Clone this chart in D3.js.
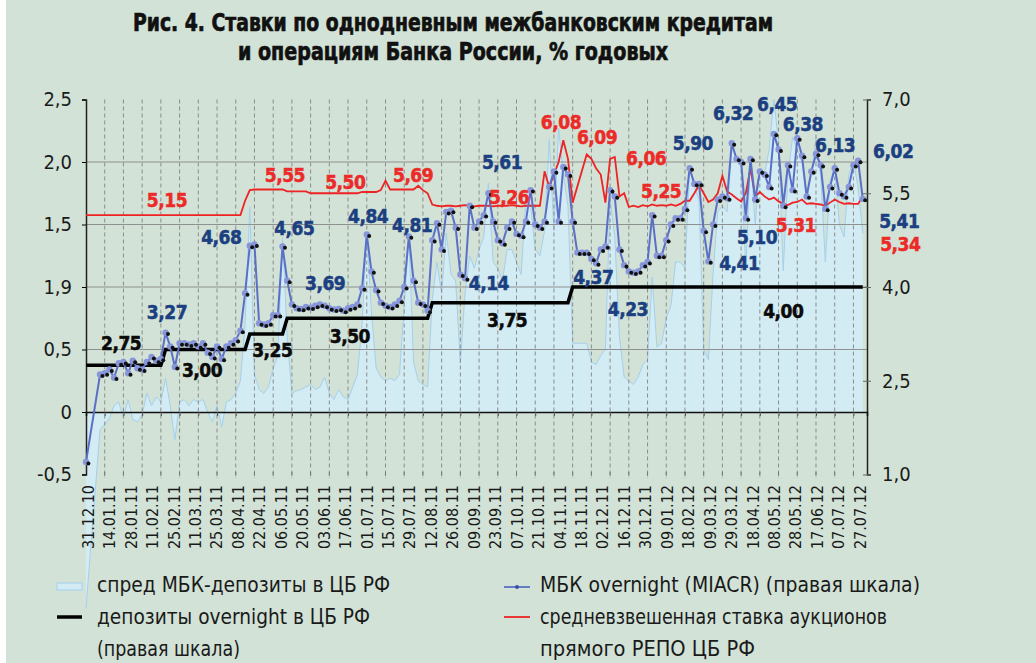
<!DOCTYPE html>
<html>
<head>
<meta charset="utf-8">
<script src="https://cdn.jsdelivr.net/npm/d3@7"></script>
<style>
  body { margin: 0; background: #d2e2d6; }
  svg { display: block; }
</style>
</head>
<body>
<svg id="chart"></svg>
<script>
// MIACR overnight, % (right scale); null = no fixing (holidays)
const miacr = [
  1.2, null, null, 2.6, 2.62, 2.68, 2.55, 2.78, 2.8, 2.62,
  2.82, 2.7, 2.68, 2.8, 2.88, 2.82, 2.85, 3.27, 3.05, 2.72,
  3.1, 3.1, 3.08, 3.1, 3.05, 3.1, 2.95, 2.88, 3.05, 2.85,
  3.05, 3.1, 3.15, 3.3, 3.9, 4.66, 4.68, 3.42, 3.4, 3.42,
  3.55, 3.55, 4.65, 4.1, 3.72, 3.66, 3.65, 3.68, 3.67, 3.7,
  3.72, 3.7, 3.66, 3.64, 3.65, 3.62, 3.66, 3.68, 3.72, 3.98,
  4.84, 4.25, 3.95, 3.75, 3.7, 3.68, 3.72, 3.78, 4.0, 4.81,
  4.1, 3.75, 3.72, 3.62, 4.75, 5.02, 4.6, 5.2, 5.22, 4.95,
  4.2, 4.14, 5.3, 4.95, 5.05, 5.15, 5.5, 5.05, 4.75, 4.7,
  4.95, 5.05, 4.85, 4.82, 5.05, 5.55, 5.0, 4.95, 5.05, 5.6,
  5.85, 5.05, 5.92, 5.8, 5.05, 4.55, 4.55, 4.55, 4.45, 4.38,
  4.6, 4.65, 5.55, 5.45, 4.6, 4.35, 4.25, 4.23, 4.25, 4.35,
  4.4, 5.15, 4.5, 4.5, 4.75, 5.0, 5.1, 5.1, 5.25, 5.9,
  5.65, 5.65, 4.9, 4.41, 5.0, 5.4, 5.45, 5.42, 6.3, 6.05,
  6.0, 5.1, 6.05, 5.4, 5.85, 5.8, 5.6, 6.45, 6.2, 5.3,
  5.95, 5.55, 6.38, 6.1, 5.45, 5.85, 6.13, 5.95, 5.25, 5.6,
  5.9, 5.5, 5.45, 5.6, 5.95, 6.02, 5.41
];

// spread MBK - CBR deposits, p.p. (left scale)
const spread = [
  -1.57, null, null, -0.14, -0.1, -0.05, 0.05, 0.08, -0.05, 0.1,
  -0.06, -0.08, -0.02, 0.15, 0.05, 0.12, 0.08, 0.27, 0.05, -0.22,
  0.08, 0.1, 0.05, 0.1, 0.08, 0.1, 0.0, -0.08, 0.05, -0.12,
  0.08, 0.1, 0.15, 0.25, 0.7, 1.64, 0.3, 0.18, 0.15, 0.2,
  0.35, 0.45, 1.4, 0.6, 0.15, 0.17, 0.18, 0.2, 0.22, 0.18,
  0.2, 0.28, 0.15, 0.1, 0.18, 0.12, 0.1, 0.2, 0.3, 0.7,
  1.43, 0.8, 0.35, 0.28, 0.25, 0.27, 0.25, 0.3, 0.85, 1.4,
  0.4, 0.25, 0.22, 0.2, 0.9, 1.2, 0.95, 1.43, 1.1, 1.05,
  0.39, 0.95, 1.25, 1.15, 1.3, 1.4, 1.83, 1.2, 1.15, 1.05,
  1.3, 1.3, 1.2, 1.1, 1.7, 1.65, 1.3, 1.25, 1.45, 2.18,
  1.45, 2.27, 1.9, 1.65, 0.55, 0.55, 0.55, 0.55, 0.4, 0.38,
  0.45, 0.5, 1.7, 1.4, 0.6, 0.28, 0.25, 0.22, 0.28, 0.38,
  0.42, 1.08, 0.52, 0.55, 0.75, 0.85, 1.2, 1.2, 1.15, 1.94,
  1.8, 1.7, 0.5, 0.42, 1.1, 1.6, 1.65, 1.6, 2.1, 2.05,
  2.0, 1.13, 2.05, 1.5, 1.95, 1.9, 2.1, 2.5, 2.15, 1.13,
  1.9, 2.2, 2.1, 2.0, 1.7, 1.9, 2.2, 1.9, 1.2, 1.85,
  1.95, 1.5, 1.4, 1.9, 2.0, 1.8, 1.43
];

// weighted average direct REPO auction rate, % (right scale)
const repo = [
  5.15, null, null, 5.15, 5.15, 5.15, 5.15, 5.15, 5.15, 5.15,
  5.15, 5.15, 5.15, 5.15, 5.15, 5.15, 5.15, 5.15, 5.15, 5.15,
  5.15, 5.15, 5.15, 5.15, 5.15, 5.15, 5.15, 5.15, 5.15, 5.15,
  5.15, 5.15, 5.15, 5.15, 5.38, 5.55, 5.56, 5.56, 5.56, 5.56,
  5.56, 5.56, 5.56, 5.53, 5.53, 5.53, 5.53, 5.53, 5.5, 5.5,
  5.5, 5.5, 5.5, 5.5, 5.5, 5.5, 5.5, 5.5, 5.5, 5.52,
  5.52, 5.52, 5.52, 5.55, 5.7, 5.56, 5.56, 5.56, 5.56, 5.56,
  5.56, 5.62, 5.55, 5.5, 5.32, 5.3, 5.29, 5.3, 5.3, 5.29,
  5.3, 5.31, 5.3, 5.29, 5.3, 5.3, 5.3, 5.29, 5.3, 5.3,
  5.3, 5.31, 5.3, 5.29, 5.3, 5.3, 5.3, 5.3, 5.85, 5.6,
  5.8, 6.0, 6.35, 6.05, 5.35, null, null, 6.12, 6.05, 5.9,
  5.8, 5.35, 6.05, 6.08, 5.45, 5.5, 5.28, 5.3, 5.28, 5.31,
  5.29, 5.32, 5.3, 5.31, 5.3, 5.32, 5.3, 5.33, 5.38, 5.38,
  5.5, 5.63, 5.5, 5.36, 5.4, 5.5, 5.78, 5.53, 5.48, 5.42,
  5.37, 5.5, 5.9, 5.45, 5.52, 5.45, 5.4, 5.43, 5.37, 5.33,
  5.31, 5.35, 5.36, 5.4, 5.33, 5.34, 5.33, 5.32, 5.3, 5.35,
  5.4, 5.36, 5.33, 5.34, 5.33, 5.33, 5.45
];

// CBR overnight deposit rate, % (right scale): [point index, rate]
const deposit = [
  [0, 2.75], [16, 2.75], [17, 3.0], [34, 3.0], [35, 3.25], [42, 3.25],
  [43, 3.5], [73, 3.5], [74, 3.75], [103, 3.75], [104, 4.0], [166, 4.0]
];

const dateLabels = [
  "31.12.10", "14.01.11", "28.01.11", "11.02.11", "25.02.11", "11.03.11", "25.03.11",
  "08.04.11", "22.04.11", "06.05.11", "20.05.11", "03.06.11", "17.06.11", "01.07.11",
  "15.07.11", "29.07.11", "12.08.11", "26.08.11", "09.09.11", "23.09.11", "07.10.11",
  "21.10.11", "04.11.11", "18.11.11", "02.12.11", "16.12.11", "30.12.11", "09.01.12",
  "18.02.12", "09.03.12", "29.03.12", "18.04.12", "08.05.12", "28.05.12", "17.06.12",
  "07.07.12", "27.07.12"
];

const leftTicks = [-0.5, 0, 0.5, 1, 1.5, 2, 2.5];
const leftTickText = ["-0,5", "0", "0,5", "1,9", "1,5", "2,0", "2,5"];
const rightTicks = [1, 2.5, 4, 5.5, 7];
const gridIdx = d3.range(4, 167, 4);

// value call-outs: [text, point index, rate on right scale]
const blueNotes = [
  ["3,27", 17.3, 3.6], ["4,68", 28.9, 4.8], ["4,65", 44.5, 4.94], ["3,69", 51.1, 4.06],
  ["4,84", 60.3, 5.14], ["4,81", 69.7, 4.99], ["5,61", 88.9, 6.0], ["4,14", 86.1, 4.06],
  ["4,37", 108.4, 4.16], ["4,23", 115.8, 3.65], ["5,90", 129.7, 6.3], ["6,32", 138.3, 6.78],
  ["6,45", 147.7, 6.93], ["6,38", 153.2, 6.61], ["6,13", 160.1, 6.27], ["6,02", 172.5, 6.18],
  ["5,41", 173.8, 5.06], ["5,10", 143.4, 4.8], ["4,41", 139.6, 4.38]
];
const redNotes = [
  ["5,15", 17.3, 5.39], ["5,55", 42.5, 5.79], ["5,50", 55.4, 5.68], ["5,69", 69.9, 5.79],
  ["5,26", 90.4, 5.44], ["6,08", 101.5, 6.64], ["6,09", 109.2, 6.4], ["6,06", 119.7, 6.06],
  ["5,25", 122.9, 5.54], ["5,31", 151.7, 4.99], ["5,34", 174, 4.69]
];
const blackNotes = [
  ["2,75", 7.5, 3.1], ["3,00", 24.8, 2.67], ["3,25", 39.8, 2.99],
  ["3,50", 56.4, 3.22], ["3,75", 90, 3.47], ["4,00", 149, 3.62]
];

const W = 1036, H = 663;
const svg = d3.select("#chart").attr("width", W).attr("height", H);

svg.append("rect").attr("width", W).attr("height", H).attr("fill", "#d2e2d6");
svg.append("rect").attr("width", 6).attr("height", H).attr("fill", "#ffffff");

const x = d3.scaleLinear().domain([0, 166.9]).range([86, 867]);
const yL = d3.scaleLinear().domain([-0.5, 2.5]).range([474.5, 99.5]);
const yR = d3.scaleLinear().domain([1, 7]).range([474.5, 99.5]);
const xLab = d3.scalePoint().domain(dateLabels).range([88, 860]);

const condensed = "'DejaVu Sans Condensed', 'DejaVu Sans', sans-serif";

// title
const title = svg.append("g")
    .attr("font-family", condensed)
    .attr("font-weight", "bold")
    .attr("font-size", 25)
    .attr("fill", "#111")
    .attr("stroke", "#111")
    .attr("stroke-width", 0.7)
    .attr("text-anchor", "middle");
title.append("text").attr("x", 453).attr("y", 31)
    .attr("textLength", 640).attr("lengthAdjust", "spacingAndGlyphs")
    .text("Рис. 4. Ставки по однодневным межбанковским кредитам");
title.append("text").attr("x", 453).attr("y", 60)
    .attr("textLength", 430).attr("lengthAdjust", "spacingAndGlyphs")
    .text("и операциям Банка России, % годовых");

// spread area
const spreadPts = spread.map((v, i) => [i, v]).filter(d => d[1] !== null);
svg.append("path")
    .datum(spreadPts)
    .attr("fill", "#d3ebf3")
    .attr("d", d3.area().x(d => x(d[0])).y0(yL(0)).y1(d => yL(d[1])));
svg.append("path")
    .datum(spreadPts)
    .attr("fill", "none")
    .attr("stroke", "#a4d0ee")
    .attr("stroke-width", 1)
    .attr("d", d3.line().x(d => x(d[0])).y(d => yL(d[1])));

// grid
svg.append("g")
    .selectAll("line")
    .data([0.5, 1, 1.5, 2])
    .join("line")
    .attr("x1", 86).attr("x2", 867)
    .attr("y1", d => yL(d)).attr("y2", d => yL(d))
    .attr("stroke", "#8d918f").attr("stroke-width", 1);
svg.append("g")
    .selectAll("line")
    .data(gridIdx)
    .join("line")
    .attr("x1", d => x(d)).attr("x2", d => x(d))
    .attr("y1", yL(2.5)).attr("y2", 478)
    .attr("stroke", "#8a8d8b").attr("stroke-width", 1)
    .attr("stroke-dasharray", "4,3");

// axes
const axisFont = g => g.selectAll("text")
    .attr("font-family", condensed)
    .attr("font-size", 20)
    .attr("fill", "#1a1a1a");

const leftAxis = svg.append("g")
    .attr("transform", "translate(86,0)")
    .call(d3.axisLeft(yL).tickValues(leftTicks)
        .tickFormat((d, i) => leftTickText[i]).tickSize(4).tickPadding(10))
    .call(axisFont);
leftAxis.select(".domain").attr("stroke", "#222").attr("stroke-width", 1.5);

const rightAxis = svg.append("g")
    .attr("transform", "translate(867,0)")
    .call(d3.axisRight(yR).tickValues(rightTicks)
        .tickFormat(d => d3.format(".1f")(d).replace(".", ",")).tickSize(4).tickPadding(11))
    .call(axisFont);
rightAxis.select(".domain").attr("stroke", "#222").attr("stroke-width", 1.5);
rightAxis.selectAll(".tick line").attr("x1", -4).attr("stroke", "#666");

const zeroAxis = svg.append("g")
    .attr("transform", `translate(0,${yL(0)})`)
    .call(d3.axisBottom(x).tickValues(gridIdx).tickFormat("").tickSize(4));
zeroAxis.select(".domain").attr("stroke", "#111").attr("stroke-width", 1.5);
zeroAxis.selectAll(".tick line").attr("stroke", "#555");

svg.append("g")
    .selectAll("line")
    .data(gridIdx)
    .join("line")
    .attr("x1", d => x(d)).attr("x2", d => x(d))
    .attr("y1", 472).attr("y2", 476)
    .attr("stroke", "#777");

// date labels
svg.append("g")
    .selectAll("text")
    .data(dateLabels)
    .join("text")
    .attr("transform", d => `translate(${xLab(d)},485) rotate(-90)`)
    .attr("dy", "0.36em")
    .attr("text-anchor", "end")
    .attr("font-family", condensed)
    .attr("font-size", 16)
    .attr("fill", "#1a1a1a")
    .text(d => d);

// deposit step line
svg.append("path")
    .datum(deposit)
    .attr("fill", "none")
    .attr("stroke", "#000")
    .attr("stroke-width", 3.5)
    .attr("d", d3.line().x(d => x(d[0])).y(d => yR(d[1])));

// repo
const repoPts = repo.map((v, i) => [i, v]).filter(d => d[1] !== null);
svg.append("path")
    .datum(repoPts)
    .attr("fill", "none")
    .attr("stroke", "#ee2324")
    .attr("stroke-width", 1.8)
    .attr("d", d3.line().x(d => x(d[0])).y(d => yR(d[1])));

// MIACR
const miacrPts = miacr.map((v, i) => [i, v]).filter(d => d[1] !== null);
svg.append("path")
    .datum(miacrPts)
    .attr("fill", "none")
    .attr("stroke", "#5a70c6")
    .attr("stroke-width", 2)
    .attr("d", d3.line().x(d => x(d[0])).y(d => yR(d[1])));
svg.append("g")
    .selectAll("circle")
    .data(miacrPts)
    .join("circle")
    .attr("cx", d => x(d[0]))
    .attr("cy", d => yR(d[1]))
    .attr("r", 3.2)
    .attr("fill", "#8796d8");
svg.append("g")
    .selectAll("circle")
    .data(miacrPts)
    .join("circle")
    .attr("cx", d => x(d[0]) + 2.4)
    .attr("cy", d => yR(d[1]) + 1.4)
    .attr("r", 2)
    .attr("fill", "#111");

// value call-outs
function notes(list, color) {
  svg.append("g")
      .selectAll("text")
      .data(list)
      .join("text")
      .attr("x", d => x(d[1]))
      .attr("y", d => yR(d[2]))
      .attr("dy", "0.36em")
      .attr("text-anchor", "middle")
      .attr("font-family", condensed)
      .attr("font-weight", "bold")
      .attr("font-size", 19)
      .attr("letter-spacing", -0.5)
      .attr("fill", color)
      .attr("stroke", color)
      .attr("stroke-width", 0.5)
      .text(d => d[0]);
}
notes(blueNotes, "#1b3f80");
notes(redNotes, "#ec2b28");
notes(blackNotes, "#0a0a0a");

// legend
const legend = svg.append("g")
    .attr("font-family", condensed)
    .attr("font-size", 21)
    .attr("fill", "#1a1a1a");
legend.append("rect").attr("x", 57).attr("y", 583).attr("width", 25).attr("height", 7)
    .attr("fill", "#d3ebf3").attr("stroke", "#a4d0ee");
legend.append("line").attr("x1", 57).attr("x2", 82).attr("y1", 617).attr("y2", 617)
    .attr("stroke", "#000").attr("stroke-width", 3.5);
legend.append("line").attr("x1", 504).attr("x2", 530).attr("y1", 587).attr("y2", 587)
    .attr("stroke", "#5a70c6").attr("stroke-width", 1.8);
legend.append("circle").attr("cx", 517).attr("cy", 587).attr("r", 2).attr("fill", "#3a4fa6");
legend.append("line").attr("x1", 504).attr("x2", 530).attr("y1", 617).attr("y2", 617)
    .attr("stroke", "#ee2324").attr("stroke-width", 1.8);

const legendText = [
  ["спред МБК-депозиты в ЦБ РФ", 97, 592, 293],
  ["депозиты overnight в ЦБ РФ", 97, 624, 273],
  ["(правая шкала)", 97, 656, 143],
  ["МБК overnight (MIACR) (правая шкала)", 540, 592, 380],
  ["средневзвешенная ставка аукционов", 540, 624, 347],
  ["прямого РЕПО ЦБ РФ", 540, 656, 215]
];
legend.selectAll("text")
    .data(legendText)
    .join("text")
    .attr("x", d => d[1])
    .attr("y", d => d[2])
    .attr("textLength", d => d[3])
    .attr("lengthAdjust", "spacingAndGlyphs")
    .text(d => d[0]);
</script>
</body>
</html>
